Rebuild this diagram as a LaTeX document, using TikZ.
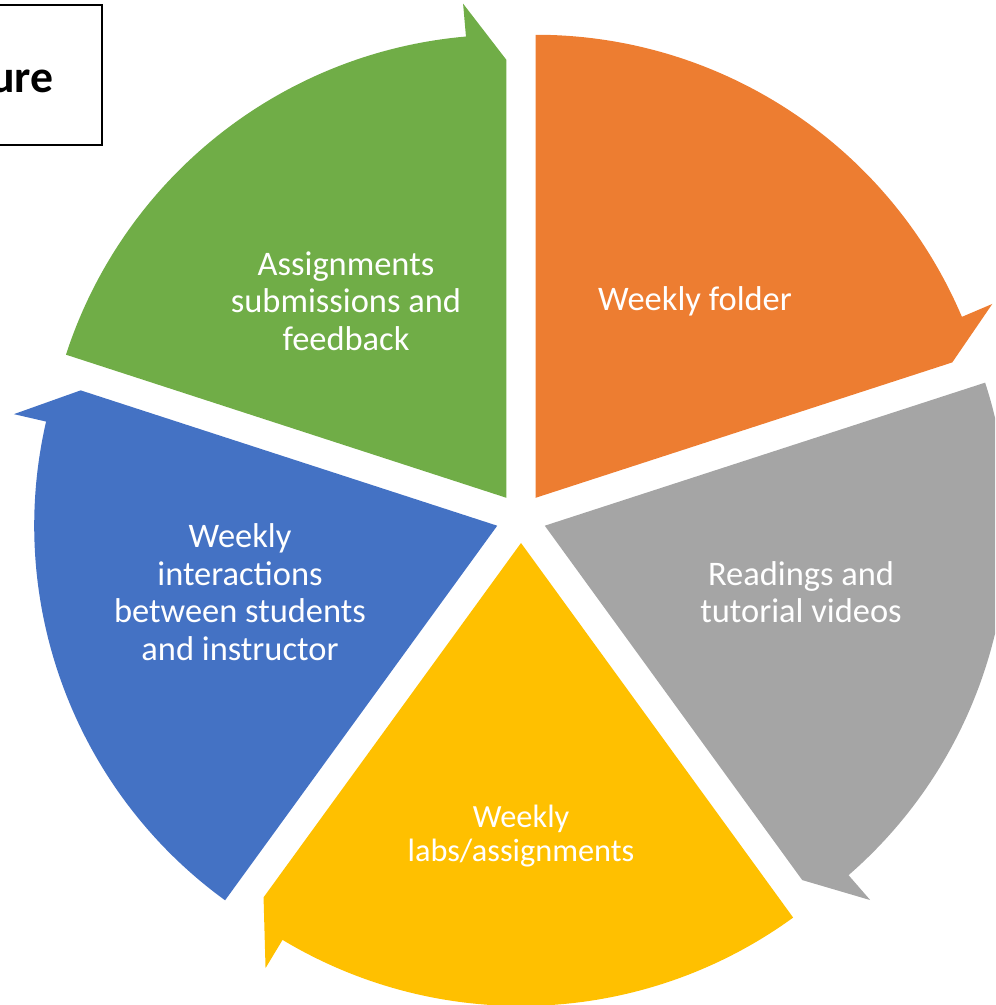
\documentclass[tikz,border=0pt]{standalone}
\usepackage{fontspec}
\setmainfont{Carlito}

\definecolor{segorange}{HTML}{ED7D31}
\definecolor{seggray}{HTML}{A5A5A5}
\definecolor{segyellow}{HTML}{FFC000}
\definecolor{segblue}{HTML}{4472C4}
\definecolor{seggreen}{HTML}{70AD47}

\tikzset{
  seglabel/.style={text=white, align=center, font=\fontsize{9.8}{10.7}\selectfont},
}

% one segment of the cycle: colour, start angle (runs clockwise over 72 degrees)
\newcommand{\cyclepart}[2]{%
  \pgfmathsetmacro\segmid{#2-36}
  \pgfmathsetmacro\segend{#2-72}
  \pgfmathsetmacro\segarc{#2-67}
  \fill[#1, shift={(\segmid:0.25)}] (0,0) -- (#2:4.63)
    arc[start angle=#2, end angle=\segarc, radius=4.63]
    -- (\segarc:4.96) -- (\segend:4.38) -- cycle;
}

\begin{document}
\begin{tikzpicture}
			\clip (0,0) rectangle (9.95,10.05);
			\coordinate (O) at (5.21,4.87);

			% Segments
			\begin{scope}[shift={(O)}]
				\cyclepart{segorange}{90}
				\cyclepart{seggray}{18}
				\cyclepart{segyellow}{-54}
				\cyclepart{segblue}{-126}
				\cyclepart{seggreen}{162}
			\end{scope}

			% Labels for segments
			\node[seglabel] (folder) at (6.95,7.04) {Weekly folder};
			\node[seglabel] (readings) at (8.01,4.13) {Readings and\\tutorial videos};
			\node[seglabel, font=\fontsize{9.2}{9.7}\selectfont] (labs) at (5.21,1.69) {Weekly\\labs/assignments};
			\node[seglabel] (interact) at (2.40,4.13) {Weekly\\interactions\\between students\\and instructor};
			\node[seglabel] (submit) at (3.46,7.04) {Assignments\\submissions and\\feedback};

			% Title box
			\draw[line width=0.8pt] (-0.1,8.60) rectangle (1.02,10.00);
			\node[font=\bfseries\fontsize{13}{15}\selectfont, anchor=base east, inner sep=0pt] (title) at (0.54,9.12) {ure};
\end{tikzpicture}
\end{document}
